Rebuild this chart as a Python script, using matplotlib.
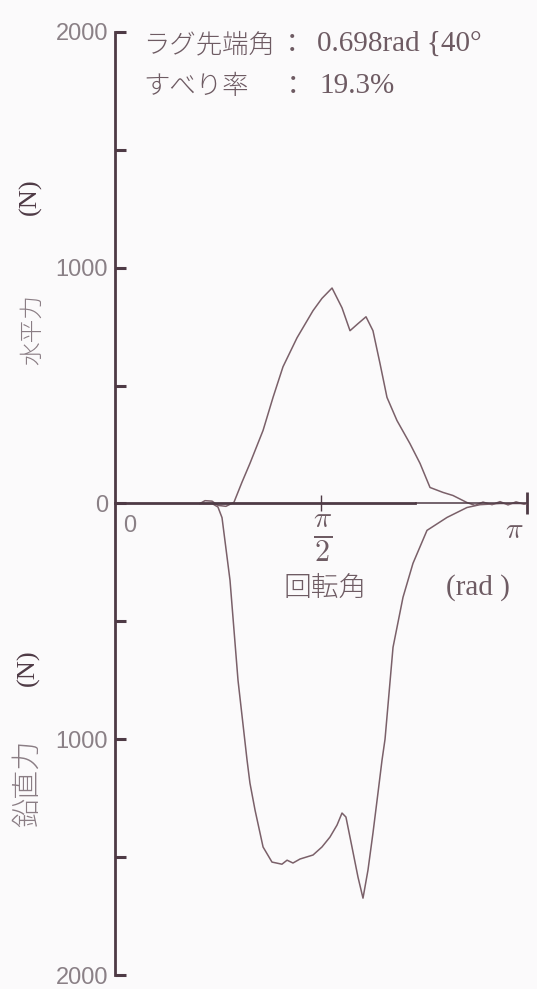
import numpy as np
import matplotlib.pyplot as plt

plt.rcParams['mathtext.fontset'] = 'cm'

# rotation angle (rad) and measured forces (N)
theta_h = [0.648, 0.686, 0.740, 0.785, 0.846, 0.907, 0.968, 1.029, 1.129, 1.205,
           1.281, 1.388, 1.510, 1.578, 1.655, 1.731, 1.792, 1.853, 1.914, 1.967,
           2.021, 2.074, 2.150, 2.249, 2.326, 2.402, 2.501, 2.577, 2.684, 2.745,
           2.806, 2.875, 2.936, 2.997, 3.058, 3.119, 3.142]
horiz = [0, 12, 10, -8, -12, 5, 90, 170, 310, 450,
         580, 703, 818, 870, 914, 830, 733, 763, 792, 733,
         593, 450, 352, 254, 170, 68, 47, 34, 4, -8,
         6, -5, 8, -6, 7, -3, 0]

theta_v = [0.648, 0.740, 0.785, 0.816, 0.877, 0.938, 1.007, 1.029, 1.068, 1.129,
           1.197, 1.273, 1.312, 1.357, 1.411, 1.510, 1.578, 1.639, 1.693, 1.731,
           1.761, 1.807, 1.853, 1.891, 1.929, 1.967, 2.005, 2.036, 2.059, 2.120,
           2.196, 2.272, 2.379, 2.532, 2.684, 2.783, 2.936, 3.142]
vert = [0, 0, 15, 60, 326, 750, 1089, 1186, 1301, 1457,
        1521, 1530, 1513, 1525, 1508, 1491, 1457, 1415, 1364, 1313,
        1330, 1457, 1585, 1674, 1555, 1398, 1229, 1089, 1000, 610,
        398, 254, 114, 59, 17, 5, 0, 0]

yticks = [-2000, -1500, -1000, -500, 0, 500, 1000, 1500, 2000]
ytick_labels = ['2000', '', '1000', '', '0', '', '1000', '', '2000']

AXIS_COL = '#4e3a45'
LINE_COL = '#7a6069'
TEXT_COL = '#6e5b63'
JP = ['Noto Sans CJK JP', 'DejaVu Sans']

W, H = 537, 989
fig = plt.figure(figsize=(W / 100, H / 100), dpi=100)
fig.patch.set_facecolor('#fbfafb')


def px(x, y):
    return x / W, 1 - y / H


ax = fig.add_axes([115 / W, 14 / H, 412 / W, 943 / H])
ax.set_facecolor('none')
ax.set_xlim(0, np.pi)
ax.set_ylim(-2000, 2000)

ax.plot(theta_h, horiz, color=LINE_COL, lw=1.1)
ax.plot(theta_v, -np.array(vert), color=LINE_COL, lw=1.1)

# axes: thick zero line that thins out toward pi
for s in ['top', 'right']:
    ax.spines[s].set_visible(False)
ax.spines['left'].set_linewidth(2.0)
ax.spines['left'].set_color(AXIS_COL)
ax.spines['bottom'].set_position(('data', 0))
ax.spines['bottom'].set_bounds(0, 2.29)
ax.spines['bottom'].set_linewidth(2.0)
ax.spines['bottom'].set_color(AXIS_COL)
ax.hlines(0, 2.29, np.pi, color=AXIS_COL, lw=1.1)

ax.set_yticks(yticks)
ax.set_yticklabels(ytick_labels, family='Liberation Sans', fontsize=17, color='#8a8086')
ax.tick_params(axis='y', direction='in', length=8, width=2.2, color=AXIS_COL, pad=5)

ax.set_xticks([np.pi])
ax.set_xticks([np.pi / 2], minor=True)
ax.set_xticklabels([''])
ax.tick_params(axis='x', which='major', direction='inout', length=16, width=2.0, color=AXIS_COL)
ax.tick_params(axis='x', which='minor', direction='inout', length=11, width=1.0, color=AXIS_COL)

# x tick labels
fig.text(*px(130, 526), '0', family='Liberation Sans', fontsize=17, color='#8a8086',
         ha='center', va='center')
fig.text(*px(323, 538), r'$\frac{\pi}{2}$', fontsize=31, color=TEXT_COL,
         ha='center', va='center')
fig.text(*px(514, 530), r'$\pi$', fontsize=21, color=TEXT_COL, ha='center', va='center')

# axis titles
fig.text(*px(325, 588), '回転角', family=JP, fontsize=20, color=TEXT_COL,
         ha='center', va='center', fontweight='light')
fig.text(*px(478, 588), '(rad )', family='Liberation Serif', fontsize=21, color=TEXT_COL,
         ha='center', va='center')

fig.text(*px(32, 330), '水平力', family=JP, fontsize=17, color='#8a7d84',
         rotation=90, ha='center', va='center', fontweight='light')
fig.text(*px(30, 197), '(N)', family='Liberation Serif', fontsize=19, color='#4e3a45',
         rotation=90, ha='center', va='center')
fig.text(*px(28, 783), '鉛直力', family=JP, fontsize=21, color='#8a7d84',
         rotation=90, ha='center', va='center', fontweight='light')
fig.text(*px(28, 668), '(N)', family='Liberation Serif', fontsize=19, color='#4e3a45',
         rotation=90, ha='center', va='center')

# test conditions
fig.text(*px(143, 44), 'ラグ先端角', family=JP, fontsize=19, color=TEXT_COL,
         ha='left', va='center', fontweight='light')
fig.text(*px(292, 44), '：', family=JP, fontsize=19, color=TEXT_COL,
         ha='center', va='center')
fig.text(*px(317, 44), '0.698rad {40°', family='Liberation Serif', fontsize=21,
         color=TEXT_COL, ha='left', va='center')
fig.text(*px(143, 86), 'すべり率', family=JP, fontsize=19, color=TEXT_COL,
         ha='left', va='center', fontweight='light')
fig.text(*px(293, 86), '：', family=JP, fontsize=19, color=TEXT_COL,
         ha='center', va='center')
fig.text(*px(319, 86), '19.3%', family='Liberation Serif', fontsize=21,
         color=TEXT_COL, ha='left', va='center')

fig.savefig('out.png', dpi=100, facecolor=fig.get_facecolor())
